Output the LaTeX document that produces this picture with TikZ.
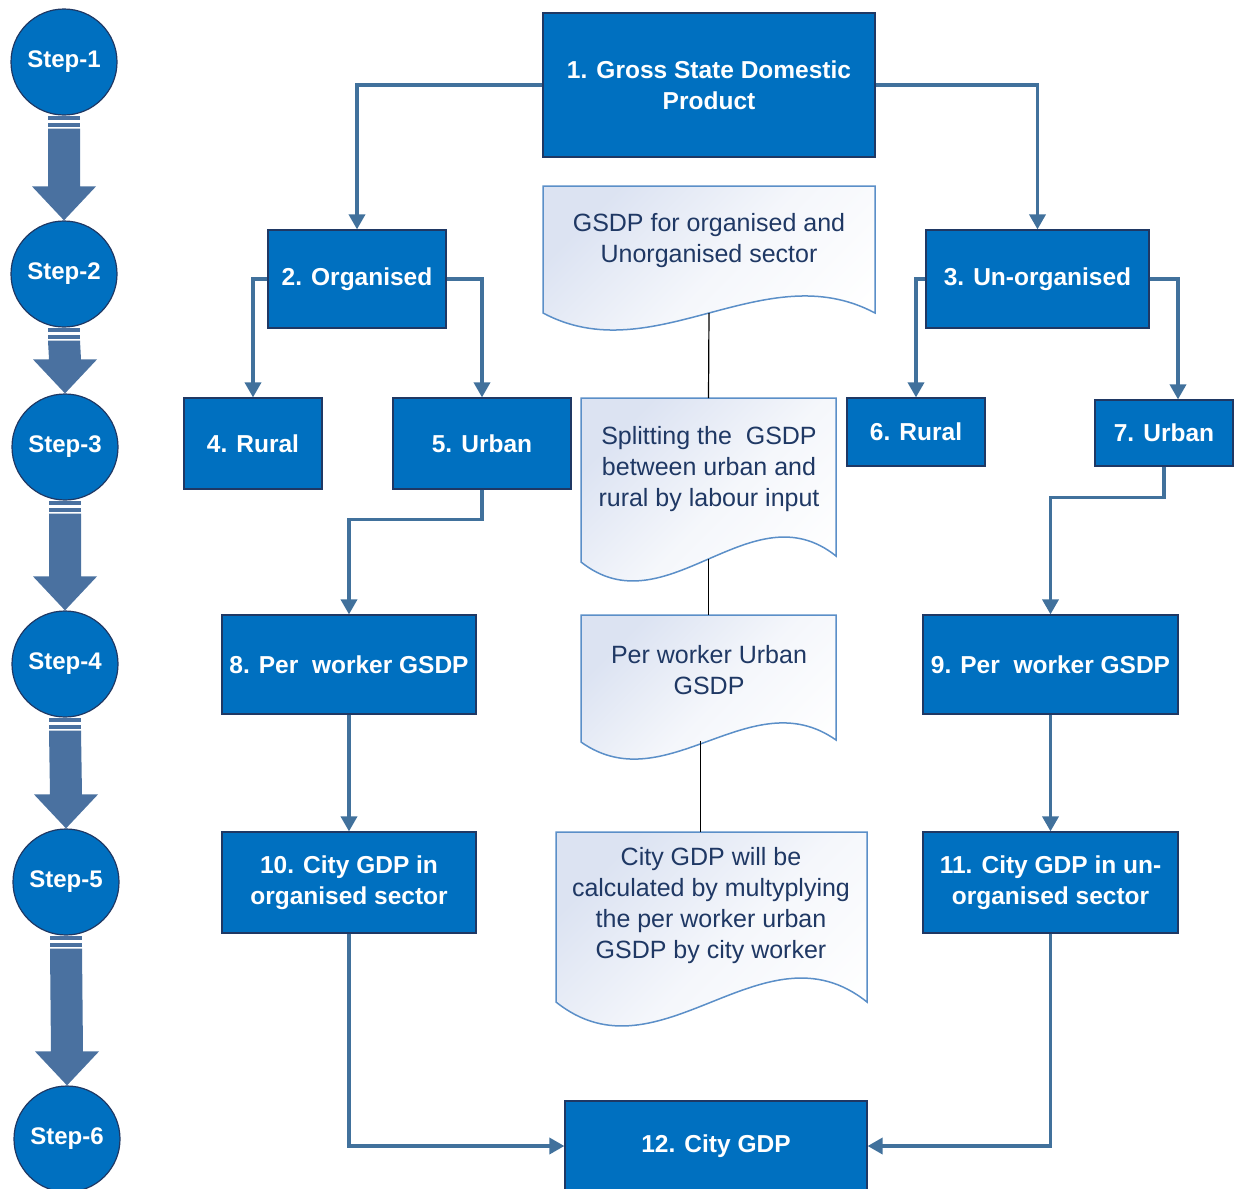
\documentclass[tikz,border=0pt]{standalone}
\usepackage{fontspec}
\setmainfont{Liberation Sans}
\usetikzlibrary{arrows.meta, calc}

\definecolor{boxblue}{HTML}{0070C0}
\definecolor{boxline}{HTML}{1F3864}
\definecolor{linkblue}{HTML}{41719C}
\definecolor{stepblue}{HTML}{4A71A0}
\definecolor{docline}{HTML}{5B8FC8}
\definecolor{docfill}{HTML}{DCE3F2}
\definecolor{doctext}{HTML}{1F3864}

\tikzset{
  box/.style={draw=boxline, line width=1.2pt, fill=boxblue, text=white, align=center,
    inner sep=0pt, font=\fontsize{24.5}{31}\selectfont\bfseries},
  boxsize/.style 2 args={minimum width=#1pt, minimum height=#2pt},
  stepnode/.style={circle, draw=boxline, line width=1.2pt, fill=boxblue, text=white,
    minimum size=106pt, inner sep=0pt, font=\fontsize{24}{28}\selectfont\bfseries},
  doc/.style={draw=docline, line width=1.5pt, top color=docfill, bottom color=white,
    middle color=white!70!docfill, shading angle=45},
  doctxt/.style={text=doctext, align=center, inner sep=0pt, font=\fontsize{25}{31}\selectfont},
  flow/.style={draw=linkblue, line width=3.5pt, -{Triangle[length=15pt,width=16pt]}},
  link/.style={draw=black, line width=1.2pt}
}

% document shape: name, left, top, right, bottom-left, bottom-right, wave
\newcommand{\docshape}[7]{%
  \path[doc] (#2,#3) -- (#4,#3) -- (#4,#6)
    .. controls ({#4-(#4-#2)/3},{#6-#7}) and ({#2+(#4-#2)/3},{#5+#7}) .. (#2,#5) -- cycle;
  \coordinate (#1-top) at ({(#2+#4)/2},#3);
  \coordinate (#1-bot) at ({(#2+#4)/2},{(#5+#6)/2});
}

% block arrow between two step circles
\newcommand{\steparrow}[2]{%
  \fill[stepblue] ([xshift=-16pt]#1.south) rectangle ([xshift=16pt,yshift=-4pt]#1.south);
  \fill[stepblue] ([xshift=-16pt,yshift=-7pt]#1.south) rectangle ([xshift=16pt,yshift=-11pt]#1.south);
  \fill[stepblue] ([xshift=-16pt,yshift=-13pt]#1.south) -- ([xshift=-16pt,yshift=34pt]#2.north)
    -- ([xshift=-32pt,yshift=34pt]#2.north) -- (#2.north) -- ([xshift=32pt,yshift=34pt]#2.north)
    -- ([xshift=16pt,yshift=34pt]#2.north) -- ([xshift=16pt,yshift=-13pt]#1.south) -- cycle;
}

\begin{document}
\begin{tikzpicture}[x=1pt, y=-1pt]
  \useasboundingbox (0,0) rectangle (1235,1189);

  % steps
  \node[stepnode] (s1) at (64,62) {Step-1};
  \node[stepnode] (s2) at (64,274) {Step-2};
  \node[stepnode] (s3) at (65,447) {Step-3};
  \node[stepnode] (s4) at (65,664) {Step-4};
  \node[stepnode] (s5) at (66,882) {Step-5};
  \node[stepnode] (s6) at (67,1139) {Step-6};
  \steparrow{s1}{s2}
  \steparrow{s2}{s3}
  \steparrow{s3}{s4}
  \steparrow{s4}{s5}
  \steparrow{s5}{s6}

  % notes
  \docshape{d1}{543}{186}{875}{313}{313}{59}
  \docshape{d2}{581}{398}{836}{562}{556}{68}
  \docshape{d3}{581}{615}{836}{742}{740}{60}
  \docshape{d4}{556}{832}{867}{1002}{1002}{83}
  \node[doctxt] (t1) at (709,241) {GSDP for organised and\\Unorganised sector};
  \node[doctxt] (t2) at (709,469) {Splitting the\ \ GSDP\\between urban and\\rural by labour input};
  \node[doctxt] (t3) at (709,670) {Per worker Urban\\GSDP};
  \node[doctxt] (t4) at (711,906) {City GDP will be\\calculated by multyplying\\the per worker urban\\GSDP by city worker};
  \draw[link] (d1-bot) -- (d2-top);
  \draw[link] (d2-bot) -- (d3-top);
  \draw[link] ([xshift=-8pt]d3-bot) -- ([xshift=-8pt]d3-bot |- d4-top);

  % boxes
  \node[box, boxsize={332}{144}] (b1) at (709,85) {1. Gross State Domestic\\Product};
  \node[box, boxsize={178}{98}] (b2) at (357,279) {2. Organised};
  \node[box, boxsize={223}{98}] (b3) at (1037.5,279) {3. Un-organised};
  \node[box, boxsize={138}{91}] (b4) at (253,443.5) {4. Rural};
  \node[box, boxsize={178}{91}] (b5) at (482,443.5) {5. Urban};
  \node[box, boxsize={138}{68}] (b6) at (916,432) {6. Rural};
  \node[box, boxsize={138}{66}] (b7) at (1164,433) {7. Urban};
  \node[box, boxsize={254}{99}] (b8) at (349,664.5) {8. Per\ \ worker GSDP};
  \node[box, boxsize={255}{99}] (b9) at (1050.5,664.5) {9. Per\ \ worker GSDP};
  \node[box, boxsize={254}{101}] (b10) at (349,882.5) {10. City GDP in\\organised sector};
  \node[box, boxsize={255}{101}] (b11) at (1050.5,882.5) {11. City GDP in un-\\organised sector};
  \node[box, boxsize={302}{90}] (b12) at (716,1146) {12. City GDP};

  % flow
  \draw[flow] (b1.west) -| (b2.north);
  \draw[flow] (b1.east) -| (b3.north);
  \draw[flow] (b2.west) -| (b4.north);
  \draw[flow] (b2.east) -| (b5.north);
  \draw[flow] (b3.west) -| (b6.north);
  \draw[flow] (b3.east) -| ([xshift=14pt]b7.north);
  \draw[flow] (b5.south) -- ++(0,30) -| (b8.north);
  \draw[flow] (b7.south) -- ++(0,31) -| (b9.north);
  \draw[flow] (b8.south) -- (b10.north);
  \draw[flow] (b9.south) -- (b11.north);
  \draw[flow] (b10.south) |- (b12.west);
  \draw[flow] (b11.south) |- (b12.east);
\end{tikzpicture}
\end{document}
